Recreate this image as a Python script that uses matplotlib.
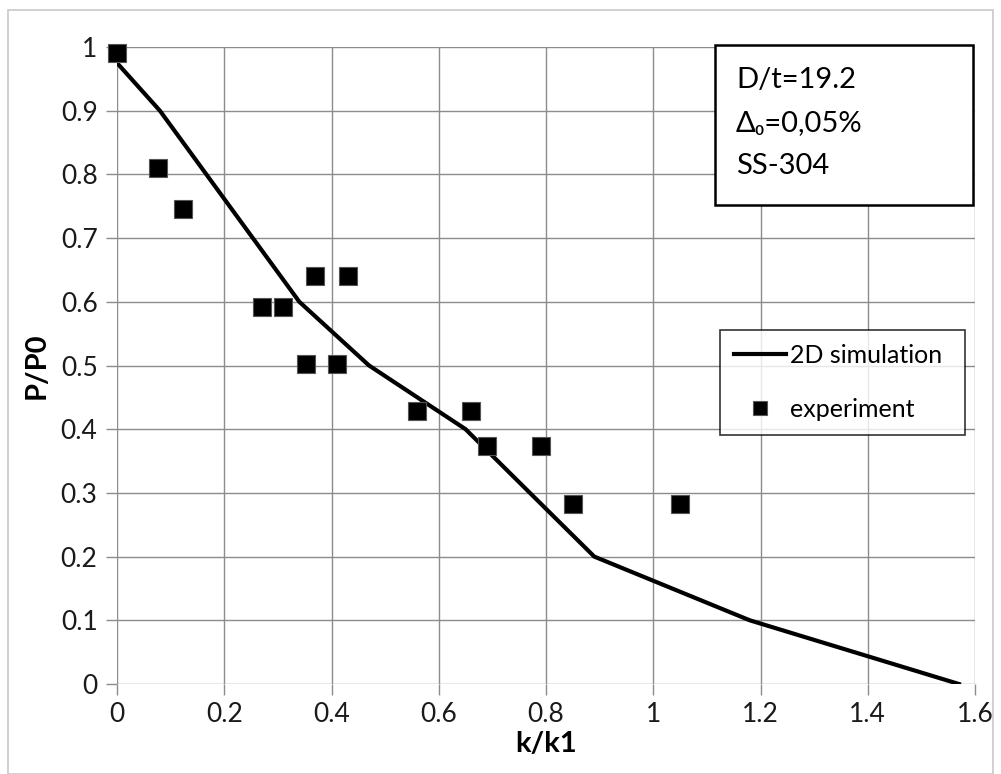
import matplotlib
matplotlib.use("Agg")
import matplotlib.pyplot as plt
from matplotlib.patches import Rectangle

plt.rcParams['font.family'] = ['Lato', 'DejaVu Sans']

# Data
sim_x = [0.0, 0.08, 0.34, 0.47, 0.65, 0.89, 1.18, 1.57]
sim_y = [0.975, 0.9, 0.6, 0.5, 0.4, 0.2, 0.1, 0.0]

exp_x = [0.0, 0.076, 0.123, 0.27, 0.31, 0.37, 0.43, 0.352, 0.41,
         0.56, 0.66, 0.69, 0.79, 0.85, 1.05]
exp_y = [0.99, 0.81, 0.746, 0.592, 0.592, 0.64, 0.64, 0.502, 0.502,
         0.428, 0.428, 0.374, 0.374, 0.283, 0.283]

xticks = [0, 0.2, 0.4, 0.6, 0.8, 1.0, 1.2, 1.4, 1.6]
xticklabels = ['0', '0.2', '0.4', '0.6', '0.8', '1', '1.2', '1.4', '1.6']
yticks = [0, 0.1, 0.2, 0.3, 0.4, 0.5, 0.6, 0.7, 0.8, 0.9, 1.0]
yticklabels = ['0', '0.1', '0.2', '0.3', '0.4', '0.5', '0.6', '0.7', '0.8', '0.9', '1']

W, H = 1001, 774
fig = plt.figure(figsize=(W/100, H/100), dpi=100)
fig.patches.append(Rectangle((8/W, 0), (993-8)/W, 1-10/H,
                             transform=fig.transFigure, fill=False,
                             edgecolor='#c8c8c8', linewidth=1.2))
x0, x1, y0, y1 = 117, 975, 684, 47
ax = fig.add_axes([x0/W, 1-y0/H, (x1-x0)/W, (y0-y1)/H])

def ax_xy(px, py):
    return (px-x0)/(x1-x0), (y0-py)/(y0-y1)

ax.plot(sim_x, sim_y, color='black', linewidth=3, label='2D simulation',
        zorder=3, solid_joinstyle='miter')
ax.plot(exp_x, exp_y, linestyle='none', marker='s', markersize=12.5,
        markerfacecolor='black', markeredgecolor='#555555', markeredgewidth=0.8,
        label='experiment', zorder=4, clip_on=False)

ax.set_xlim(0, 1.6)
ax.set_ylim(0, 1.0)
ax.set_xticks(xticks)
ax.set_xticklabels(xticklabels)
ax.set_yticks(yticks)
ax.set_yticklabels(yticklabels)
ax.grid(True, color='#8c8c8c', linewidth=1.0)
ax.set_axisbelow(True)
for s in ax.spines.values():
    s.set_visible(False)
ax.tick_params(axis='both', length=8, color='#8c8c8c', width=1.0,
               labelsize=19, pad=6, labelcolor='#1a1a1a')
ax.tick_params(axis='x', pad=5)

ax.set_xlabel('k/k1', fontsize=21, fontweight='bold', labelpad=3)
ax.set_ylabel('P/P0', fontsize=21, fontweight='bold', labelpad=8)

lx, ly = ax_xy(720, 330)
lw = (965-720)/(x1-x0)
leg = ax.legend(loc='upper left', bbox_to_anchor=(lx, ly - 0.3, lw, 0.3),
                mode='expand', frameon=True, fancybox=False, edgecolor='black',
                fontsize=18, handlelength=2.1, handletextpad=0.15,
                borderpad=0.55, labelspacing=1.25, borderaxespad=0,
                markerscale=0.8)
leg.get_frame().set_linewidth(1.2)

# annotation box
bx0, by0 = ax_xy(715, 205)
bx1, by1 = ax_xy(973, 45)
ax.add_patch(Rectangle((bx0, by0), bx1-bx0, by1-by0, transform=ax.transAxes,
                       facecolor='white', edgecolor='black', linewidth=1.8,
                       clip_on=False, zorder=5))
tx, ty = ax_xy(736, 123)
ax.text(tx, ty, 'D/t=19.2\nΔ₀=0,05%\nSS-304',
        transform=ax.transAxes, fontsize=21, va='center', ha='left',
        linespacing=1.8, family=['Lato', 'DejaVu Sans'], zorder=6)

fig.savefig('out.png', dpi=100)
